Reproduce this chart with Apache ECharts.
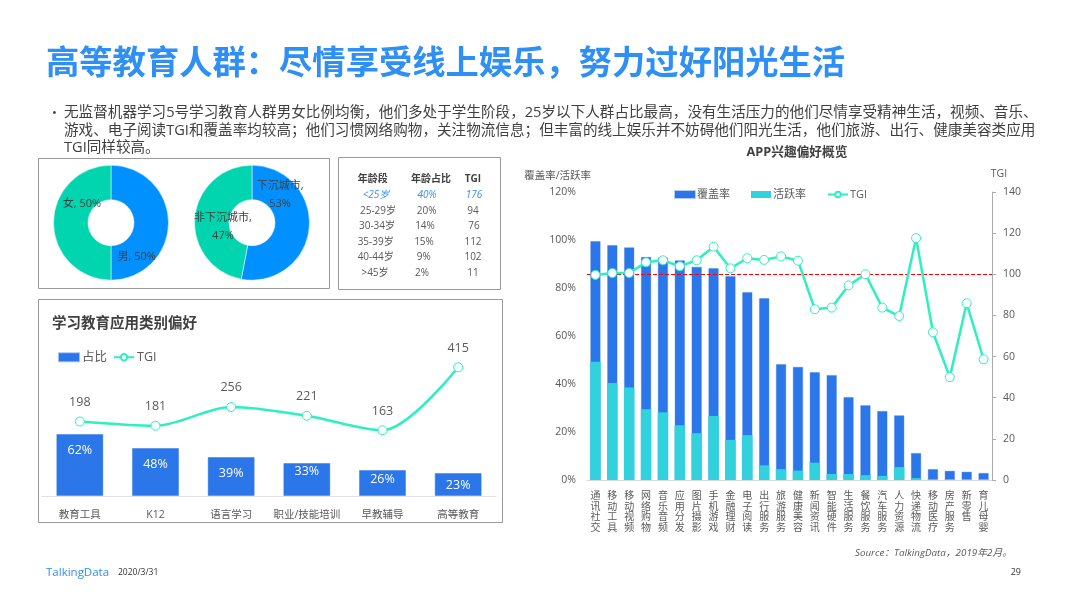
<!DOCTYPE html>
<html>
<head>
<meta charset="utf-8">
<title>高等教育人群</title>
<script src="https://cdn.jsdelivr.net/npm/echarts@6/dist/echarts.min.js"></script>
<style>
html, body { margin: 0; padding: 0; background: #fff; }
#main { width: 1066px; height: 599px; }
</style>
</head>
<body>
<div id="main"></div>
<script>
// donuts
var genderNames = ['男', '女'];
var genderValues = [50, 50];
var sinkNames = ['下沉城市', '非下沉城市'];
var sinkValues = [53, 47];

// age table
var ageHeader = ['年龄段', '年龄占比', 'TGI'];
var ageGroups = ['<25岁', '25-29岁', '30-34岁', '35-39岁', '40-44岁', '>45岁'];
var ageShare = ['40%', '20%', '14%', '15%', '9%', '2%'];
var ageTgi = ['176', '94', '76', '112', '102', '11'];

// study apps
var eduCats = ['教育工具', 'K12', '语言学习', '职业/技能培训', '早教辅导', '高等教育'];
var eduShare = [62, 48, 39, 33, 26, 23];
var eduTgi = [198, 181, 256, 221, 163, 415];

// app interest
var appCats = ['通讯社交', '移动工具', '移动视频', '网络购物', '音乐音频', '应用分发', '图片摄影', '手机游戏', '金融理财', '电子阅读', '出行服务', '旅游服务', '健康美容', '新闻资讯', '智能硬件', '生活服务', '餐饮服务', '汽车服务', '人力资源', '快递物流', '移动医疗', '房产服务', '新零售', '育儿母婴'];
var appCover = [99.6, 97.9, 97, 93, 92.8, 91.6, 88.9, 88.3, 85, 78.3, 75.8, 48.3, 47.2, 45, 43.8, 34.6, 31.2, 28.8, 27, 11.3, 4.6, 3.9, 3.5, 3];
var appActive = [49.3, 40.4, 38.5, 29.5, 28.2, 22.8, 19.5, 26.7, 16.7, 18.7, 6.1, 4.5, 3.9, 7.2, 2.5, 2.5, 2, 1.7, 5.4, 0.8, 0.3, 0.3, 0.2, 0.3];
var appTgi = [99.7, 100.6, 100.6, 105.8, 106.8, 103.9, 106.8, 113.4, 102.9, 107.8, 107, 108.7, 106.6, 83, 83.8, 94.6, 100, 83.8, 79.7, 117.6, 71.8, 50, 85.9, 58.7];

var FONT = '"Open Sans", "Noto Sans CJK SC", sans-serif';
var TEXT = '#595959';
var DARK = '#404040';
var BLUE = '#2B76E8';
var CYAN = '#31D2DE';
var MINT = '#2DEFC0';

function txt(x, y, str, size, color, extra) {
    var st = {
        text: str,
        fill: color,
        font: (extra && extra.font ? extra.font + ' ' : '') + size + 'px ' + FONT,
        textAlign: (extra && extra.align) || 'left',
        textVerticalAlign: 'middle'
    };
    return { type: 'text', x: x, y: y + 1, z: 10, style: st };
}

function box(x, y, w, h) {
    return {
        type: 'rect', z: 1,
        shape: { x: x, y: y, width: w, height: h },
        style: { fill: 'none', stroke: '#999999', lineWidth: 1 }
    };
}

var elements = [
    box(38.5, 158.5, 291, 130),
    box(338.5, 157.5, 162, 132),
    box(38.5, 299.5, 464, 223),
    txt(46, 63.5, '高等教育人群：尽情享受线上娱乐，努力过好阳光生活', 33.3, '#2E8FF5', { font: 'bold' }),
    txt(52, 112, '•', 13, DARK),
    txt(64, 112, '无监督机器学习5号学习教育人群男女比例均衡，他们多处于学生阶段，25岁以下人群占比最高，没有生活压力的他们尽情享受精神生活，视频、音乐、', 14.6, DARK),
    txt(64, 129.5, '游戏、电子阅读TGI和覆盖率均较高；他们习惯网络购物，关注物流信息；但丰富的线上娱乐并不妨碍他们阳光生活，他们旅游、出行、健康美容类应用', 14.6, DARK),
    txt(64, 147, 'TGI同样较高。', 14.6, DARK),
    txt(52, 323, '学习教育应用类别偏好', 14.5, DARK, { font: 'bold' }),
    txt(797, 151, 'APP兴趣偏好概览', 12.7, DARK, { font: 'bold', align: 'center' }),
    txt(855, 552, 'Source：TalkingData，2019年2月。', 9.8, TEXT, { font: 'italic' }),
    txt(46, 571.5, 'TalkingData', 11.5, '#2E8FF5'),
    txt(118, 571.5, '2020/3/31', 8.5, '#333333'),
    txt(1021, 571.5, '29', 9, '#333333', { align: 'right' })
];

// table cells sit slightly off-column in the slide
var headX = [372.7, 431, 473];
var colX = [
    [376, 378, 377, 375.7, 375.7, 375],
    [427, 426.7, 425, 424, 423.7, 422],
    [474, 473, 474, 473, 473, 473]
];
var rowY = [193.7, 209.7, 225.3, 240.7, 256.3, 272];
ageHeader.forEach(function (h, i) {
    elements.push(txt(headX[i], 178, h, 10, DARK, { font: 'bold', align: 'center' }));
});
[ageGroups, ageShare, ageTgi].forEach(function (col, c) {
    col.forEach(function (v, r) {
        elements.push(txt(colX[c][r], rowY[r], v, 10, r === 0 ? '#3B8FF0' : TEXT, {
            font: r === 0 ? 'italic' : '',
            align: 'center'
        }));
    });
});

function pieData(names, values, offsets, tpl) {
    return names.map(function (n, i) {
        return {
            name: n,
            value: values[i],
            label: { offset: offsets[i], formatter: tpl }
        };
    });
}

function donut(cx, data) {
    return {
        type: 'pie',
        center: [cx, 222.7],
        radius: [23, 57.5],
        startAngle: 90,
        silent: true,
        data: data,
        color: ['#0090FF', '#00D5B0'],
        itemStyle: { borderColor: '#fff', borderWidth: 0.5 },
        label: { position: 'inside', color: DARK, fontSize: 11, lineHeight: 17.5 },
        labelLine: { show: false }
    };
}

// label distance from the top of each study-app bar
var eduLabelDist = [10, 10, 10, 2, 3, 6];

var myChart = echarts.init(document.getElementById('main'));
var option = {
    animation: false,
    textStyle: { fontFamily: FONT },
    graphic: { elements: elements },
    legend: [
        {
            left: 58, top: 351, padding: 0,
            data: [{ name: '占比', icon: 'rect' }, { name: 'TGI' }],
            itemWidth: 20, itemHeight: 8, itemGap: 6,
            textStyle: { color: TEXT, fontSize: 12.5, padding: [0, 0, 0, -2] }
        },
        {
            left: 674, top: 189, padding: 0,
            data: [{ name: '覆盖率', icon: 'rect' }, { name: '活跃率', icon: 'rect' }, { name: 'TGI' }],
            itemWidth: 20, itemHeight: 7, itemGap: 21,
            textStyle: { color: TEXT, fontSize: 11, padding: [0, 0, 0, -3] }
        }
    ],
    grid: [
        { left: 42, width: 454, top: 346, height: 150 },
        { left: 587, width: 405, top: 192, height: 288 }
    ],
    xAxis: [
        {
            type: 'category', gridIndex: 0, data: eduCats,
            axisLine: { lineStyle: { color: '#E0E0E0' } },
            axisTick: { show: false },
            axisLabel: { color: TEXT, fontSize: 10.5, margin: 14, interval: 0 }
        },
        {
            type: 'category', gridIndex: 1, data: appCats,
            axisLine: { lineStyle: { color: '#D9D9D9' } },
            axisTick: { show: false },
            axisLabel: {
                color: TEXT, fontSize: 10, lineHeight: 10.5, margin: 11, interval: 0,
                verticalAlign: 'top',
                formatter: function (v) { return v.split('').join('\n'); }
            }
        }
    ],
    yAxis: [
        { type: 'value', gridIndex: 0, show: false, min: 0, max: 150 },
        { type: 'value', gridIndex: 0, show: false, min: -100, max: 500 },
        {
            type: 'value', gridIndex: 1, min: 0, max: 120, interval: 20,
            name: '覆盖率/活跃率', nameLocation: 'end', nameGap: 11,
            nameTextStyle: { color: TEXT, fontSize: 10.5, align: 'right', padding: [0, -4, 0, 0] },
            axisLine: { show: false }, axisTick: { show: false }, splitLine: { show: false },
            axisLabel: { color: TEXT, fontSize: 10.5, margin: 11, padding: [2, 0, 0, 0], formatter: '{value}%' }
        },
        {
            type: 'value', gridIndex: 1, position: 'right', min: 0, max: 140, interval: 20,
            name: 'TGI', nameLocation: 'end', nameGap: 13,
            nameTextStyle: { color: TEXT, fontSize: 10.5, align: 'center', padding: [0, 0, 0, 14] },
            axisLine: { show: true, lineStyle: { color: '#ABABAB' } },
            axisTick: { show: true, length: 4, lineStyle: { color: '#ABABAB' } },
            splitLine: { show: false },
            axisLabel: { color: TEXT, fontSize: 10.5, margin: 11, padding: [2, 0, 0, 0] }
        }
    ],
    series: [
        donut(111, pieData(genderNames, genderValues, [[-17.5, 34], [14.2, -18.7]], '{b}, {d}%')),
        donut(252, pieData(sinkNames, sinkValues, [[-15, -32], [14, 8]], '{b},\n{d}%')),
        {
            name: '占比', type: 'bar', xAxisIndex: 0, yAxisIndex: 0,
            barWidth: 47,
            data: eduShare.map(function (v, i) {
                return { value: v, label: { distance: eduLabelDist[i] } };
            }),
            itemStyle: { color: BLUE, borderColor: 'rgba(43,118,232,0.45)', borderWidth: 1 },
            label: { show: true, position: 'insideTop', color: '#fff', fontSize: 12.5, formatter: '{c}%' }
        },
        {
            name: 'TGI', type: 'line', xAxisIndex: 0, yAxisIndex: 1,
            data: eduTgi, smooth: 0.3,
            symbol: 'circle', symbolSize: 9,
            lineStyle: { color: MINT, width: 2.5 },
            itemStyle: { color: '#fff', borderColor: MINT, borderWidth: 1 },
            label: { show: true, position: 'top', distance: 8, color: TEXT, fontSize: 12.5 }
        },
        {
            name: '覆盖率', type: 'bar', xAxisIndex: 1, yAxisIndex: 2,
            barWidth: 10.5, barGap: '-100%',
            data: appCover,
            itemStyle: { color: BLUE, borderColor: 'rgba(43,118,232,0.35)', borderWidth: 1 }
        },
        {
            name: '活跃率', type: 'bar', xAxisIndex: 1, yAxisIndex: 2,
            barWidth: 10.5,
            data: appActive,
            itemStyle: { color: CYAN }
        },
        {
            name: 'TGI', type: 'line', xAxisIndex: 1, yAxisIndex: 3,
            data: appTgi,
            symbol: 'circle', symbolSize: 9, z: 5,
            lineStyle: { color: MINT, width: 2.5 },
            itemStyle: { color: '#fff', borderColor: MINT, borderWidth: 1 },
            markLine: {
                silent: true, symbol: 'none', animation: false,
                label: { show: false },
                lineStyle: { color: '#FF0000', type: 'dashed', width: 1 },
                data: [{ yAxis: 100 }]
            }
        }
    ]
};
myChart.setOption(option);
</script>
</body>
</html>
